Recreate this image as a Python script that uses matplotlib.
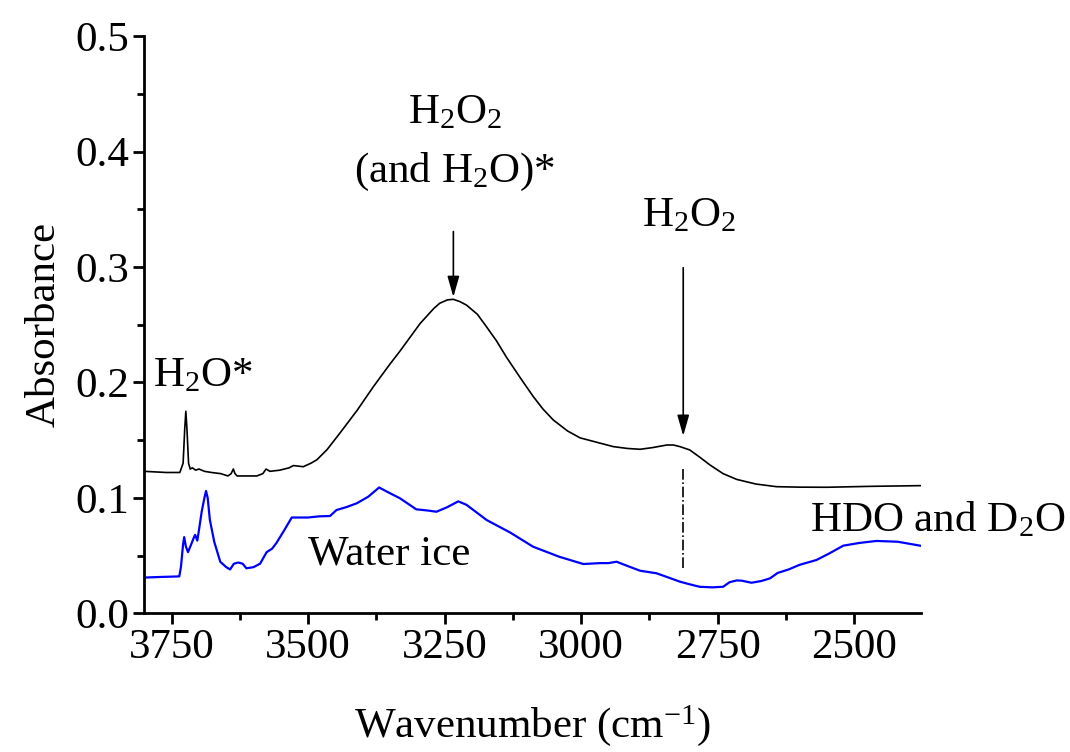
import matplotlib
matplotlib.use("Agg")
import matplotlib.pyplot as plt
from matplotlib.ticker import MultipleLocator

plt.rcParams['font.family'] = ['Liberation Serif', 'DejaVu Serif']
plt.rcParams['mathtext.fontset'] = 'custom'
plt.rcParams['mathtext.rm'] = 'Liberation Serif'
plt.rcParams['mathtext.it'] = 'Liberation Serif:italic'

# H2O2 sample spectrum (black)
wn_h2o2 = [3800, 3760, 3735, 3729, 3726, 3724, 3722, 3719, 3716, 3712, 3706, 3700, 3690,
           3677, 3660, 3647, 3641, 3637, 3634, 3630, 3610, 3594, 3583, 3577, 3570, 3552,
           3535, 3527, 3509, 3495, 3484, 3465, 3442, 3410, 3381, 3350, 3332, 3295, 3270,
           3259, 3245, 3234, 3222, 3210, 3190, 3173, 3155, 3137, 3110, 3088, 3070, 3051,
           3025, 3002, 2970, 2941, 2915, 2892, 2870, 2843, 2831, 2819, 2801, 2782, 2764,
           2740, 2715, 2680, 2642, 2600, 2550, 2470, 2379]
abs_h2o2 = [0.123, 0.122, 0.122, 0.130, 0.160, 0.175, 0.160, 0.130, 0.125, 0.126, 0.124,
            0.125, 0.123, 0.122, 0.121, 0.119, 0.121, 0.125, 0.121, 0.119, 0.119, 0.119,
            0.121, 0.125, 0.123, 0.124, 0.126, 0.128, 0.127, 0.130, 0.133, 0.142, 0.156,
            0.176, 0.196, 0.216, 0.227, 0.251, 0.264, 0.2686, 0.2715, 0.272, 0.270, 0.267,
            0.259, 0.248, 0.236, 0.222, 0.203, 0.188, 0.177, 0.1675, 0.158, 0.152, 0.148,
            0.1444, 0.1428, 0.1421, 0.1435, 0.1458, 0.1458, 0.1444, 0.1415, 0.135, 0.1285,
            0.121, 0.116, 0.112, 0.1097, 0.1093, 0.1092, 0.110, 0.1106]

# Water ice spectrum (blue)
wn_ice = [3800, 3770, 3736, 3733, 3729, 3727, 3724, 3720, 3714, 3709, 3707, 3703, 3700,
          3695, 3690, 3687, 3684, 3680, 3672, 3661, 3650, 3643, 3636, 3628, 3620, 3613,
          3600, 3588, 3576, 3566, 3558, 3545, 3530, 3500, 3480, 3460, 3448, 3430, 3411,
          3390, 3370, 3350, 3332, 3302, 3280, 3265, 3245, 3225, 3210, 3173, 3130, 3088,
          3040, 2996, 2965, 2950, 2935, 2915, 2892, 2862, 2840, 2819, 2800, 2783, 2760,
          2740, 2728, 2715, 2706, 2688, 2670, 2654, 2640, 2620, 2600, 2569, 2545, 2520,
          2490, 2459, 2420, 2379]
abs_ice = [0.031, 0.0315, 0.032, 0.040, 0.060, 0.066, 0.058, 0.053, 0.060, 0.066, 0.068,
           0.063, 0.072, 0.088, 0.100, 0.106, 0.100, 0.081, 0.062, 0.0447, 0.040, 0.038,
           0.043, 0.044, 0.043, 0.039, 0.040, 0.043, 0.053, 0.056, 0.061, 0.071, 0.083,
           0.083, 0.084, 0.0843, 0.0895, 0.092, 0.0953, 0.101, 0.109, 0.104, 0.0997,
           0.0901, 0.089, 0.088, 0.092, 0.097, 0.094, 0.0808, 0.070, 0.0577, 0.049, 0.0427,
           0.0435, 0.0435, 0.0447, 0.041, 0.0369, 0.0347, 0.031, 0.0274, 0.025, 0.023,
           0.0225, 0.023, 0.027, 0.0285, 0.0283, 0.0265, 0.028, 0.0303, 0.035, 0.038,
           0.042, 0.0462, 0.052, 0.0586, 0.061, 0.0627, 0.062, 0.0586]

xticks = [3750, 3500, 3250, 3000, 2750, 2500]
yticks = [0.0, 0.1, 0.2, 0.3, 0.4, 0.5]

fig = plt.figure(figsize=(10.70, 7.52), dpi=100)
ax = fig.add_axes([0.1349, 0.1844, 0.7256, 0.7676])

ax.plot(wn_h2o2, abs_h2o2, color='black', lw=1.2)
ax.plot(wn_ice, abs_ice, color='#0000ff', lw=1.6)

ax.set_xlim(3800, 2378)
ax.set_ylim(0, 0.5)
ax.set_xticks(xticks)
ax.set_yticks(yticks)
ax.set_yticklabels([f"{v:.1f}" for v in yticks])
ax.xaxis.set_minor_locator(MultipleLocator(125))
ax.yaxis.set_minor_locator(MultipleLocator(0.05))

for s in ['top', 'right']:
    ax.spines[s].set_visible(False)
for s in ['left', 'bottom']:
    ax.spines[s].set_linewidth(2)

ax.tick_params(which='major', direction='out', length=8, width=2, labelsize=31, pad=3)
ax.tick_params(which='minor', direction='out', length=5, width=2)

ax.set_xlabel('Wavenumber (cm$^{\\mathregular{-1}}$)', fontsize=31, labelpad=26)
ax.set_ylabel('Absorbance', fontsize=31, labelpad=8)

fs = 31
ax.text(3785, 0.1964, 'H$_\\mathregular{2}$O*', fontsize=fs, ha='left', va='baseline')
ax.text(3231, 0.4246, 'H$_\\mathregular{2}$O$_\\mathregular{2}$', fontsize=fs, ha='center', va='baseline')
ax.text(3231, 0.374, '(and H$_\\mathregular{2}$O)*', fontsize=fs, ha='center', va='baseline')
ax.text(2803, 0.335, 'H$_\\mathregular{2}$O$_\\mathregular{2}$', fontsize=fs, ha='center', va='baseline')
ax.text(3500, 0.0419, 'Water ice', fontsize=fs, ha='left', va='baseline')
ax.text(2580, 0.0707, 'HDO and D$_\\mathregular{2}$O', fontsize=fs, ha='left', va='baseline', clip_on=False)

arrow = dict(arrowstyle='-|>,head_width=0.2,head_length=0.7', color='black', lw=1.2,
             mutation_scale=18, shrinkA=0, shrinkB=0)
ax.annotate('', xy=(3234, 0.274), xytext=(3234, 0.3307), arrowprops=arrow)
ax.annotate('', xy=(2813, 0.1537), xytext=(2813, 0.2994), arrowprops=arrow)
ax.plot([2813, 2813], [0.039, 0.1259], color='black', lw=1.2, linestyle='-.')

fig.savefig('out.png', dpi=100)
